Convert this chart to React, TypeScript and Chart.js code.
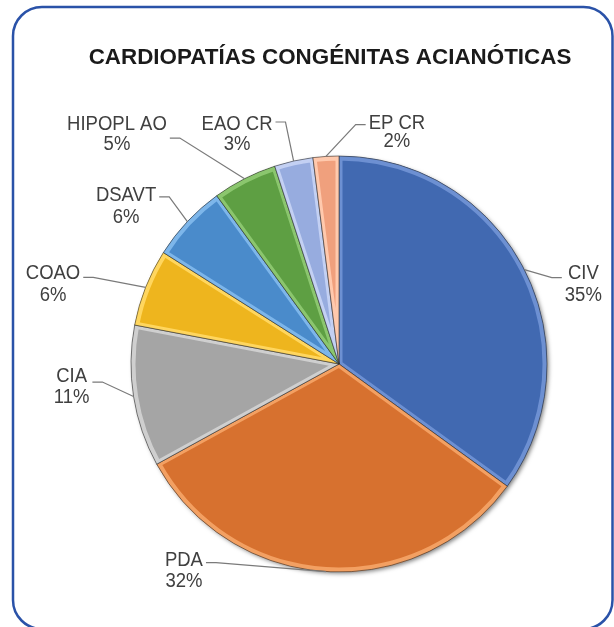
import React, { useEffect, useRef } from "react";
import { Chart, registerables } from "chart.js";

Chart.register(...registerables);

const chartTitle = "CARDIOPATÍAS CONGÉNITAS ACIANÓTICAS";
const categories = ["CIV", "PDA", "CIA", "COAO", "DSAVT", "HIPOPL AO", "EAO CR", "EP CR"];
const percentages = [35, 32, 11, 6, 6, 5, 3, 2];
const sliceColors = ["#4169B1", "#D7712F", "#A5A5A5", "#EEB51E", "#4A8BCB", "#5E9F43", "#97ACDF", "#F0A07D"];
const highlightColors = ["#6D90D2", "#F3A062", "#CFCFCF", "#FFD65E", "#7DB6EA", "#8BC66E", "#C3D0F3", "#FFC9AD"];

// label placement relative to each slice's rim mid-point (dx, dy of first text line; ay = leader attach offset)
const labelLayout = [
  { dx: 59, dy: 2.5, ay: 5.5, gap: 21.5 },
  { dx: -142, dy: -13.5, ay: 4.5, gap: 21.5 },
  { dx: -62, dy: -21.5, ay: 7, gap: 20.5 },
  { dx: -92.6, dy: -15.5, ay: 5.5, gap: 22 },
  { dx: -61.3, dy: -28.2, ay: 3.5, gap: 22 },
  { dx: -127.6, dy: -55.6, ay: 15, gap: 19.5 },
  { dx: -56.6, dy: -38, ay: -1, gap: 19.5 },
  { dx: 71, dy: -34.7, ay: 3, gap: 18 },
];

const LABEL_FONT_SIZE = 18.5;
const LABEL_STRETCH = 1.12;
const LABEL_FONT = `${LABEL_FONT_SIZE}px 'Liberation Sans', Arial, sans-serif`;

const framePlugin = {
  id: "frame",
  beforeDraw(chart: any) {
    const ctx = chart.ctx;
    ctx.save();
    ctx.fillStyle = "#FFFFFF";
    ctx.fillRect(0, 0, chart.width, chart.height);
    ctx.strokeStyle = "#2A52A8";
    ctx.lineWidth = 2.5;
    ctx.beginPath();
    ctx.roundRect(13, 7, 599.5, 622, 29);
    ctx.stroke();
    ctx.fillStyle = "#1A1A1A";
    ctx.font = "bold 22.4px 'Liberation Sans', Arial, sans-serif";
    ctx.textAlign = "center";
    ctx.textBaseline = "alphabetic";
    ctx.fillText(chartTitle, 330, 63.5);
    ctx.restore();
  },
  beforeDatasetsDraw(chart: any) {
    const meta = chart.getDatasetMeta(0);
    const el = meta.data[0];
    if (!el) return;
    const { x, y, outerRadius } = el.getProps(["x", "y", "outerRadius"], true);
    const ctx = chart.ctx;
    ctx.save();
    ctx.shadowColor = "rgba(0,0,0,0.5)";
    ctx.shadowBlur = 4;
    ctx.shadowOffsetX = 2;
    ctx.shadowOffsetY = 2;
    ctx.fillStyle = "#333";
    ctx.beginPath();
    ctx.arc(x, y, outerRadius - 0.5, 0, Math.PI * 2);
    ctx.fill();
    ctx.restore();
  },
  afterDatasetsDraw(chart: any) {
    const meta = chart.getDatasetMeta(0);
    const ctx = chart.ctx;
    meta.data.forEach((el: any, i: number) => {
      const { x, y, startAngle, endAngle, outerRadius } = el.getProps(
        ["x", "y", "startAngle", "endAngle", "outerRadius"],
        true
      );
      ctx.save();
      ctx.beginPath();
      ctx.moveTo(x, y);
      ctx.arc(x, y, outerRadius, startAngle, endAngle);
      ctx.closePath();
      ctx.clip();
      ctx.strokeStyle = highlightColors[i];
      ctx.lineWidth = 7;
      ctx.lineJoin = "round";
      ctx.beginPath();
      ctx.moveTo(x, y);
      ctx.arc(x, y, outerRadius - 1, startAngle, endAngle);
      ctx.closePath();
      ctx.stroke();
      ctx.restore();
      ctx.save();
      ctx.strokeStyle = "rgba(40,40,40,0.55)";
      ctx.lineWidth = 1;
      ctx.beginPath();
      ctx.moveTo(x, y);
      ctx.arc(x, y, outerRadius, startAngle, endAngle);
      ctx.closePath();
      ctx.stroke();
      ctx.restore();
    });

    ctx.save();
    ctx.font = LABEL_FONT;
    meta.data.forEach((el: any, i: number) => {
      const { x, y, startAngle, endAngle, outerRadius } = el.getProps(
        ["x", "y", "startAngle", "endAngle", "outerRadius"],
        true
      );
      const mid = (startAngle + endAngle) / 2;
      const px = x + outerRadius * Math.cos(mid);
      const py = y + outerRadius * Math.sin(mid);
      const lay = labelLayout[i];
      const lx = px + lay.dx;
      const ly1 = py + lay.dy;
      const ly2 = ly1 + lay.gap;
      const line1 = categories[i];
      const line2 = `${percentages[i]}%`;
      const w = Math.max(ctx.measureText(line1).width, ctx.measureText(line2).width);
      const left = lay.dx < 0;
      const ax = left ? lx + w / 2 + 3 : lx - w / 2 - 3;
      const ex = left ? ax + 10 : ax - 10;
      const ay = ly1 + lay.ay;
      ctx.strokeStyle = "#7A7A7A";
      ctx.lineWidth = 1.2;
      ctx.beginPath();
      ctx.moveTo(ax, ay);
      ctx.lineTo(ex, ay);
      ctx.lineTo(px, py);
      ctx.stroke();
      ctx.fillStyle = "#404040";
      ctx.textAlign = "center";
      ctx.textBaseline = "alphabetic";
      const off = 0.358 * LABEL_FONT_SIZE * LABEL_STRETCH;
      [
        [line1, ly1],
        [line2, ly2],
      ].forEach(([t, ly]) => {
        ctx.save();
        ctx.translate(lx, (ly as number) + off);
        ctx.scale(1, LABEL_STRETCH);
        ctx.fillText(t as string, 0, 0);
        ctx.restore();
      });
    });
    ctx.restore();
  },
};

export default function App() {
  const canvasRef = useRef<HTMLCanvasElement | null>(null);
  useEffect(() => {
    if (!canvasRef.current) return;
    const chart = new Chart(canvasRef.current, {
      type: "pie",
      data: {
        labels: categories,
        datasets: [
          {
            data: percentages,
            backgroundColor: sliceColors,
            borderColor: "rgba(40,40,40,0.55)",
            borderWidth: 0,
          },
        ],
      },
      options: {
        responsive: false,
        animation: false,
        layout: { padding: { left: 131, right: 67, top: 156, bottom: 55 } },
        plugins: {
          legend: { display: false },
          tooltip: { enabled: false },
          title: { display: false },
        },
      },
      plugins: [framePlugin],
    });
    return () => chart.destroy();
  }, []);
  return (
    <div style={{ position: "absolute", left: 0, top: 0, width: 614, height: 627 }}>
      <canvas ref={canvasRef} width={614} height={627} style={{ width: 614, height: 627, display: "block" }} />
    </div>
  );
}
